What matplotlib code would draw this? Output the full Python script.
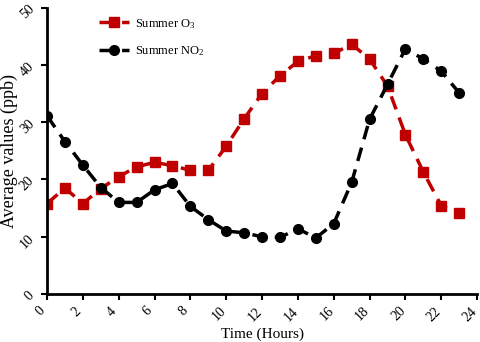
import matplotlib
matplotlib.use("Agg")
import matplotlib.pyplot as plt
import matplotlib.transforms as mtransforms

hours = list(range(24))
o3 = [15.8, 18.5, 15.8, 18.4, 20.5, 22.2, 23.0, 22.4, 21.6, 21.6, 25.8, 30.6,
      35.0, 38.1, 40.6, 41.6, 42.0, 43.6, 41.0, 36.3, 27.8, 21.3, 15.4, 14.2]
no2 = [31.1, 26.6, 22.5, 18.6, 16.0, 16.0, 18.2, 19.3, 15.3, 13.0, 11.0, 10.7,
       10.0, 9.9, 11.4, 9.8, 12.3, 19.5, 30.5, 36.6, 42.8, 41.0, 38.9, 35.1]
xticks = list(range(0, 25, 2))
yticks = list(range(0, 51, 10))

plt.rcParams["font.family"] = ["Liberation Serif", "DejaVu Serif"]
plt.rcParams["mathtext.fontset"] = "custom"
plt.rcParams["mathtext.rm"] = "Liberation Serif"

fig = plt.figure(figsize=(4.8, 3.42), dpi=100)
ax = fig.add_axes([0.098, 0.14, 0.896, 0.838])

ax.plot(hours, o3, color="#c00000", linestyle=(0, (4, 2.5)), linewidth=2.5,
        marker="s", markersize=7, label=r"Summer O$\mathregular{_3}$")
ax.plot(hours, no2, color="black", linestyle=(0, (4, 2.5)), linewidth=2.5,
        marker="o", markersize=7, label=r"Summer NO$\mathregular{_2}$")

ax.set_xlim(0, 24)
ax.set_ylim(0, 50)
ax.set_xticks(xticks)
ax.set_yticks(yticks)
ax.tick_params(labelsize=10, width=1.5, length=4, direction="out")
shift = mtransforms.ScaledTranslation(-7 / 100, 0, fig.dpi_scale_trans)
for lab in ax.get_xticklabels():
    lab.set_rotation(45)
    lab.set_transform(lab.get_transform() + shift)
for lab in ax.get_yticklabels():
    lab.set_rotation(45)
for s in ["top", "right"]:
    ax.spines[s].set_visible(False)
for s in ["left", "bottom"]:
    ax.spines[s].set_linewidth(2)

ax.set_xlabel("Time (Hours)", fontsize=11, labelpad=3)
ax.set_ylabel("Average values (ppb)", fontsize=13, labelpad=0)

ax.legend(loc="upper left", bbox_to_anchor=(0.095, 1.007), frameon=False,
          fontsize=9, handlelength=2.4, labelspacing=1.1, handletextpad=0.5)

fig.savefig("out.png", dpi=100)
